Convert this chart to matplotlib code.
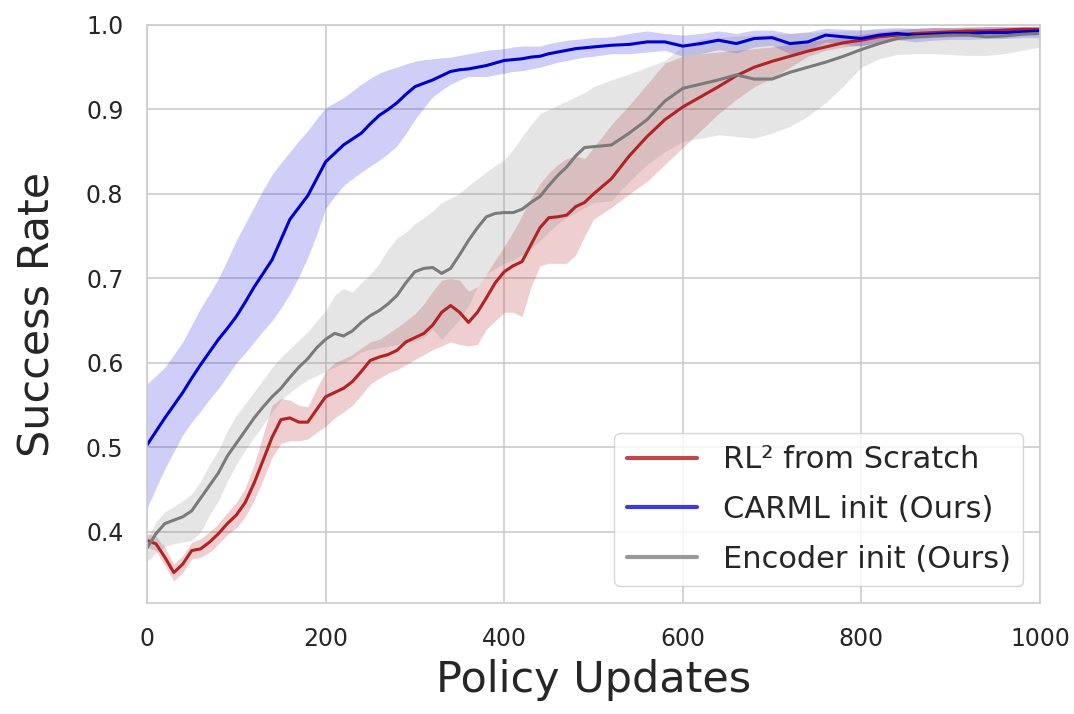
import matplotlib
matplotlib.use("Agg")
import matplotlib.pyplot as plt
import seaborn as sns
import numpy as np
from matplotlib.lines import Line2D

x = list(range(0, 501, 10)) + list(range(520, 1001, 20))

rl2_mean = [0.390, 0.386, 0.370, 0.352, 0.362, 0.378, 0.380, 0.388, 0.398, 0.410,
            0.420, 0.435, 0.458, 0.485, 0.512, 0.533, 0.535, 0.530, 0.530, 0.545,
            0.560, 0.565, 0.570, 0.578, 0.590, 0.603, 0.607, 0.610, 0.615, 0.625,
            0.630, 0.635, 0.645, 0.660, 0.668, 0.660, 0.648, 0.660, 0.677, 0.695,
            0.708, 0.715, 0.720, 0.740, 0.760, 0.772, 0.773, 0.775, 0.785, 0.790,
            0.800,
            0.818, 0.845, 0.868, 0.888, 0.903, 0.915, 0.927, 0.940, 0.950, 0.957,
            0.963, 0.969, 0.974, 0.979, 0.982, 0.986, 0.988, 0.990, 0.991, 0.992,
            0.993, 0.993, 0.994, 0.995, 0.995]
rl2_upper = [0.398, 0.395, 0.382, 0.362, 0.372, 0.388, 0.392, 0.400, 0.410, 0.423,
             0.435, 0.452, 0.480, 0.515, 0.550, 0.558, 0.556, 0.550, 0.548, 0.570,
             0.590, 0.600, 0.605, 0.610, 0.618, 0.625, 0.628, 0.635, 0.642, 0.650,
             0.658, 0.670, 0.685, 0.698, 0.700, 0.698, 0.685, 0.690, 0.705, 0.722,
             0.738, 0.755, 0.775, 0.795, 0.812, 0.825, 0.835, 0.842, 0.845, 0.842,
             0.855,
             0.882, 0.905, 0.930, 0.955, 0.963, 0.966, 0.968, 0.970, 0.972, 0.974,
             0.977, 0.980, 0.983, 0.986, 0.989, 0.992, 0.994, 0.996, 0.997, 0.997,
             0.998, 0.998, 0.998, 0.998, 0.998]
rl2_lower = [0.382, 0.378, 0.360, 0.342, 0.352, 0.368, 0.370, 0.376, 0.386, 0.397,
             0.405, 0.418, 0.438, 0.462, 0.488, 0.505, 0.508, 0.508, 0.510, 0.518,
             0.525, 0.535, 0.542, 0.550, 0.562, 0.575, 0.582, 0.588, 0.592, 0.598,
             0.604, 0.610, 0.616, 0.620, 0.625, 0.622, 0.620, 0.622, 0.640, 0.650,
             0.660, 0.660, 0.655, 0.690, 0.715, 0.718, 0.718, 0.718, 0.728, 0.750,
             0.770,
             0.784, 0.800, 0.815, 0.835, 0.855, 0.875, 0.895, 0.912, 0.927, 0.937,
             0.950, 0.963, 0.970, 0.974, 0.976, 0.979, 0.982, 0.984, 0.985, 0.986,
             0.987, 0.988, 0.989, 0.990, 0.990]

carml_mean = [0.503, 0.519, 0.535, 0.550, 0.565, 0.582, 0.598, 0.613, 0.628, 0.641,
              0.655, 0.672, 0.690, 0.706, 0.722, 0.746, 0.770, 0.784, 0.798, 0.818,
              0.838, 0.848, 0.858, 0.865, 0.872, 0.883, 0.893, 0.900, 0.908, 0.918,
              0.927, 0.931, 0.935, 0.940, 0.945, 0.947, 0.948, 0.950, 0.952, 0.955,
              0.958, 0.959, 0.960, 0.962, 0.963, 0.966, 0.968, 0.970, 0.972, 0.973,
              0.974,
              0.976, 0.977, 0.980, 0.980, 0.975, 0.978, 0.982, 0.978, 0.984, 0.985,
              0.978, 0.980, 0.988, 0.986, 0.984, 0.988, 0.990, 0.988, 0.989, 0.990,
              0.990, 0.991, 0.991, 0.992, 0.993]
carml_upper = [0.575, 0.585, 0.595, 0.610, 0.625, 0.645, 0.665, 0.682, 0.700, 0.722,
               0.745, 0.765, 0.785, 0.805, 0.823, 0.837, 0.850, 0.863, 0.875, 0.889,
               0.902, 0.908, 0.914, 0.922, 0.930, 0.937, 0.943, 0.947, 0.950, 0.954,
               0.957, 0.959, 0.960, 0.961, 0.962, 0.964, 0.966, 0.968, 0.970, 0.971,
               0.972, 0.974, 0.975, 0.975, 0.975, 0.978, 0.980, 0.982, 0.983, 0.984,
               0.985,
               0.986, 0.990, 0.993, 0.990, 0.988, 0.990, 0.993, 0.990, 0.994, 0.994,
               0.990, 0.992, 0.996, 0.995, 0.994, 0.996, 0.997, 0.996, 0.997, 0.997,
               0.997, 0.998, 0.998, 0.998, 0.998]
carml_lower = [0.428, 0.452, 0.475, 0.495, 0.515, 0.530, 0.543, 0.557, 0.570, 0.585,
               0.600, 0.612, 0.625, 0.638, 0.650, 0.665, 0.682, 0.702, 0.725, 0.752,
               0.783, 0.797, 0.810, 0.818, 0.826, 0.833, 0.840, 0.848, 0.857, 0.872,
               0.888, 0.902, 0.915, 0.923, 0.930, 0.935, 0.939, 0.939, 0.939, 0.941,
               0.943, 0.945, 0.946, 0.948, 0.950, 0.953, 0.956, 0.958, 0.960, 0.962,
               0.963,
               0.966, 0.966, 0.968, 0.970, 0.963, 0.966, 0.971, 0.967, 0.974, 0.976,
               0.966, 0.970, 0.980, 0.977, 0.975, 0.980, 0.983, 0.980, 0.982, 0.983,
               0.983, 0.984, 0.984, 0.985, 0.985]

enc_mean = [0.381, 0.398, 0.410, 0.414, 0.418, 0.425, 0.440, 0.455, 0.470, 0.490,
            0.505, 0.520, 0.535, 0.548, 0.560, 0.570, 0.583, 0.595, 0.605, 0.618,
            0.628, 0.635, 0.632, 0.638, 0.648, 0.656, 0.662, 0.670, 0.680, 0.695,
            0.708, 0.712, 0.713, 0.706, 0.712, 0.728, 0.745, 0.760, 0.773, 0.777,
            0.778, 0.778, 0.782, 0.790, 0.797, 0.810, 0.822, 0.832, 0.845, 0.855,
            0.856,
            0.858, 0.872, 0.888, 0.910, 0.925, 0.930, 0.935, 0.941, 0.936, 0.936,
            0.944, 0.950, 0.956, 0.963, 0.971, 0.978, 0.984, 0.986, 0.987, 0.988,
            0.988, 0.986, 0.987, 0.989, 0.990]
enc_upper = [0.392, 0.412, 0.424, 0.430, 0.437, 0.445, 0.460, 0.480, 0.497, 0.520,
             0.538, 0.552, 0.566, 0.580, 0.595, 0.607, 0.617, 0.627, 0.637, 0.650,
             0.662, 0.680, 0.688, 0.684, 0.695, 0.705, 0.718, 0.735, 0.748, 0.755,
             0.765, 0.772, 0.780, 0.790, 0.795, 0.801, 0.810, 0.818, 0.826, 0.834,
             0.840, 0.853, 0.868, 0.882, 0.895, 0.900, 0.905, 0.910, 0.915, 0.920,
             0.927,
             0.935, 0.942, 0.950, 0.958, 0.975, 0.983, 0.985, 0.987, 0.988, 0.989,
             0.990, 0.991, 0.992, 0.993, 0.994, 0.995, 0.995, 0.996, 0.996, 0.996,
             0.996, 0.996, 0.996, 0.996, 0.996]
enc_lower = [0.365, 0.375, 0.383, 0.386, 0.388, 0.390, 0.400, 0.420, 0.437, 0.460,
             0.480, 0.497, 0.512, 0.527, 0.542, 0.556, 0.565, 0.573, 0.580, 0.585,
             0.590, 0.595, 0.600, 0.606, 0.613, 0.616, 0.618, 0.620, 0.622, 0.624,
             0.626, 0.630, 0.640, 0.628, 0.640, 0.652, 0.668, 0.690, 0.705, 0.712,
             0.718, 0.722, 0.728, 0.735, 0.745, 0.755, 0.765, 0.772, 0.778, 0.784,
             0.790,
             0.792, 0.815, 0.835, 0.850, 0.862, 0.866, 0.870, 0.868, 0.866, 0.872,
             0.880, 0.892, 0.908, 0.928, 0.950, 0.960, 0.965, 0.966, 0.966, 0.965,
             0.964, 0.964, 0.966, 0.970, 0.974]

labels = ["RL\u00b2 from Scratch", "CARML init (Ours)", "Encoder init (Ours)"]
line_colors = ["#b22222", "#0000cd", "#7a7a7a"]
band_colors = ["#b22222", "#2020e0", "#808080"]
band_alphas = [0.22, 0.22, 0.2]
legend_colors = ["#c04848", "#3c3ce6", "#9a9a9a"]
xticks = [0, 200, 400, 600, 800, 1000]
yticks = [0.4, 0.5, 0.6, 0.7, 0.8, 0.9, 1.0]

sns.set_style("whitegrid")
plt.rcParams["font.family"] = ["DejaVu Sans"]

fig = plt.figure(figsize=(10.74, 7.14), dpi=100)
ax = fig.add_axes([0.1369, 0.1555, 0.8314, 0.8095])

series = [(rl2_mean, rl2_lower, rl2_upper), (carml_mean, carml_lower, carml_upper),
          (enc_mean, enc_lower, enc_upper)]
for i, (m, lo, hi) in enumerate(series):
    ax.fill_between(x, lo, hi, color=band_colors[i], alpha=band_alphas[i], linewidth=0)
    ax.plot(x, m, color=line_colors[i], linewidth=2.2)

ax.set_xlim(0, 1000)
ax.set_ylim(0.316, 1.0)
ax.set_xticks(xticks)
ax.set_yticks(yticks)
ax.set_yticklabels(["%.1f" % t for t in yticks])
ax.tick_params(axis="both", labelsize=17, pad=17, colors=".15", length=0)
ax.grid(True, color=".8", linewidth=1.2)
for s in ax.spines.values():
    s.set_color(".8")
    s.set_linewidth(1.2)

ax.set_xlabel("Policy Updates", fontsize=31, color=".15", labelpad=6)
ax.set_ylabel("Success Rate", fontsize=31, color=".15", labelpad=20)

handles = [Line2D([0], [0], color=c, linewidth=3) for c in legend_colors]
leg = ax.legend(handles, labels, loc="lower right", fontsize=22, frameon=True,
                handlelength=2.3, handletextpad=0.85, labelspacing=0.68,
                borderaxespad=0.55, fancybox=True)
for t in leg.get_texts():
    t.set_color(".15")

fig.savefig("out.png", dpi=100)
